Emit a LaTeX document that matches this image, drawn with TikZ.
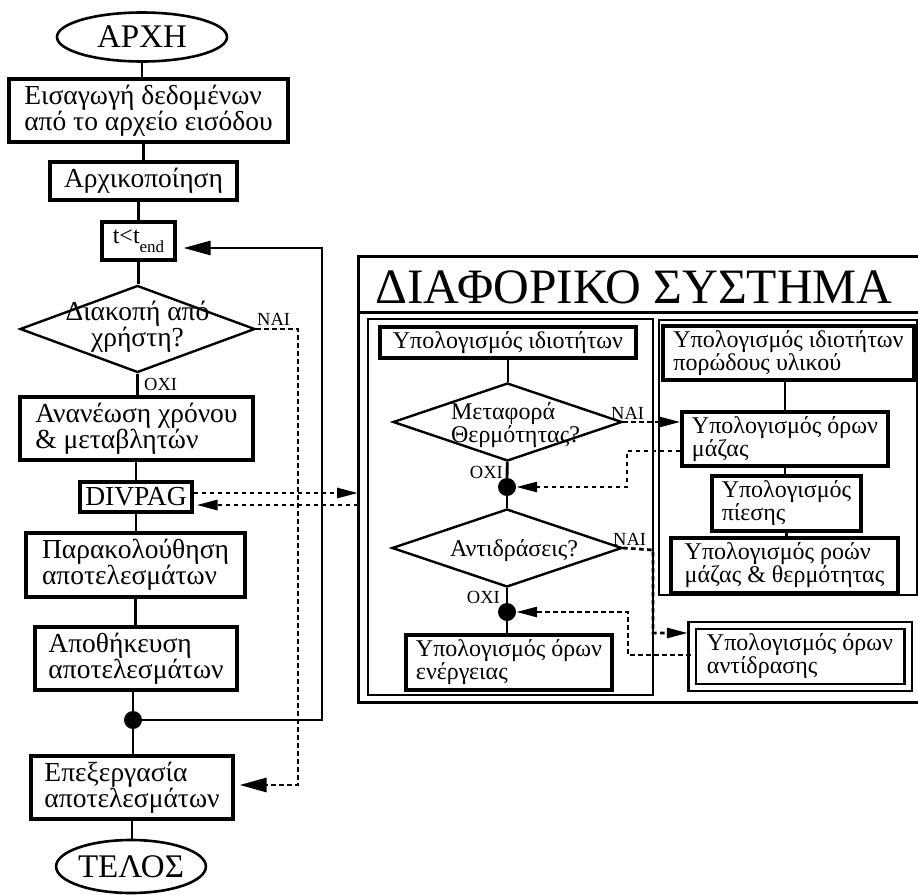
\documentclass[tikz,border=0pt]{standalone}
\usepackage{fontspec}
\setmainfont{Liberation Serif}
\usetikzlibrary{shapes.geometric, arrows.meta}

\tikzset{
    box/.style={draw, rectangle, line width=3.1pt, inner sep=1pt, align=left,
        font=\fontsize{27.5pt}{25pt}\selectfont},
    ibox/.style={box, font=\fontsize{24pt}{22pt}\selectfont},
    term/.style={draw, ellipse, line width=2.6pt, inner sep=0pt,
        font=\fontsize{33pt}{33pt}\selectfont},
    decision/.style={draw, diamond, line width=2.4pt, inner sep=0pt},
    dtext/.style={align=center, inner sep=0pt, font=\fontsize{27.5pt}{25pt}\selectfont},
    itext/.style={align=left, inner sep=0pt, font=\fontsize{24pt}{22pt}\selectfont},
    tag/.style={inner sep=1pt, font=\fontsize{18.5pt}{18pt}\selectfont},
    joint/.style={circle, fill, inner sep=0pt, minimum size=18pt},
    flow/.style={line width=2.8pt},
    signal/.style={line width=2.8pt, dash pattern=on 4.5pt off 3.5pt},
    bigtip/.style={-{Triangle[length=27pt,width=14pt]}},
    smalltip/.style={-{Triangle[length=21pt,width=10pt]}}
}

\begin{document}
\begin{tikzpicture}[x=1pt, y=-1pt]

        \useasboundingbox (0,0) rectangle (918,894);

        \node[term, minimum width=170pt, minimum height=49pt] (start) at (142,37) {ΑΡΧΗ};
        \node[box, minimum width=279pt, minimum height=63pt] (input) at (148.5,110.5)
            {Εισαγωγή δεδομένων\\από το αρχείο εισόδου};
        \node[box, minimum width=187pt, minimum height=38pt] (init) at (143.5,181) {Αρχικοποίηση};
        \node[box, minimum width=73pt, minimum height=38pt, font=\fontsize{24pt}{24pt}\selectfont]
            (time) at (138.5,241) {t<t\raisebox{-9pt}{\fontsize{17pt}{17pt}\selectfont end}};
        \node[decision, minimum width=235pt, minimum height=87pt,
            label={[dtext, yshift=2pt]center:Διακοπή από\\χρήστη?}] (stop) at (137.5,329) {};
        \node[box, minimum width=233pt, minimum height=63pt] (update) at (136.5,428.5)
            {Ανανέωση χρόνου\\\& μεταβλητών};
        \node[box, minimum width=112pt, minimum height=30pt, inner sep=0pt] (divpag) at (136,497) {DIVPAG};
        \node[box, minimum width=219pt, minimum height=64pt] (monitor) at (135.5,565)
            {Παρακολούθηση\\αποτελεσμάτων};
        \node[box, minimum width=202pt, minimum height=63pt] (save) at (136,658.5)
            {Αποθήκευση\\αποτελεσμάτων};
        \node[joint] (j0) at (133,720) {};
        \node[box, minimum width=202pt, minimum height=63pt] (post) at (132,787.5)
            {Επεξεργασία\\αποτελεσμάτων};
        \node[term, minimum width=144pt, minimum height=53pt] (end) at (131,866.5) {ΤΕΛΟΣ};

        \node[tag, anchor=west] (stop-no) at (143,384) {ΟΧΙ};
        \node[tag, anchor=south west] (stop-yes) at (256,327) {ΝΑΙ};

        \draw[flow] (start) -- (start |- input.north);
        \draw[flow] (init |- input.south) -- (init);
        \draw[flow] (time |- init.south) -- (time);
        \draw[flow] (time) -- (time |- stop.north);
        \draw[flow] (stop) -- (stop |- update.north);
        \draw[flow] (divpag |- update.south) -- (divpag);
        \draw[flow] (divpag) -- (divpag |- monitor.north);
        \draw[flow] (monitor) -- (monitor |- save.north);
        \draw[flow] (j0 |- save.south) -- (j0);
        \draw[flow] (j0) -- (j0 |- post.north);
        \draw[flow] (post) -- (post |- end.north);

        \coordinate (loopB) at (322,720);
        \coordinate (loopT) at (322,248);
        \draw[flow, bigtip, shorten >=7pt]
            (j0) -- (loopB) -- (loopT) -- (loopT -| time.east);

        \coordinate (quit0) at (298,329);
        \coordinate (quit1) at (298,785);
        \draw[signal, bigtip, shorten >=5pt]
            (stop.east) -- (quit0) -- (quit1) -- (quit1 -| post.east);

        \node[draw, line width=3pt, minimum width=563pt, minimum height=446pt, inner sep=0pt]
            (sys) at (639.5,479) {};
        \node[anchor=base west, inner sep=0pt, font=\fontsize{49.5pt}{49.5pt}\selectfont]
            (title) at (375,303) {ΔΙΑΦΟΡΙΚΟ ΣΥΣΤΗΜΑ};
        \draw[line width=3pt] (sys.west |- 0,312) -- (sys.east |- 0,312);

        \node[draw, line width=2.6pt, minimum width=285pt, minimum height=376pt, inner sep=0pt]
            (lpanel) at (510.5,507) {};
        \node[draw, line width=2.6pt, minimum width=258pt, minimum height=275pt, inner sep=0pt]
            (rpanel) at (788,457.5) {};

        \coordinate (sysA) at (358,493);
        \coordinate (sysB) at (358,505);
        \draw[signal, smalltip] (divpag.east |- sysA) -- (sysA);
        \draw[signal, smalltip, shorten >=3pt] (sysB) -- (sysB -| divpag.east);

        \node[ibox, minimum width=256pt, minimum height=31pt] (props) at (508,342.5)
            {Υπολογισμός ιδιοτήτων};
        \node[decision, minimum width=229pt, minimum height=78pt,
            label={[itext, xshift=8pt, yshift=-3pt]center:Μεταφορά\\Θερμότητας?}] (heat) at (507.5,422) {};
        \node[joint] (j1) at (507,487) {};
        \node[decision, minimum width=230pt, minimum height=78pt,
            label={[itext, xshift=7pt, yshift=-3pt]center:Αντιδράσεις?}] (react) at (507,548) {};
        \node[joint] (j2) at (507,612) {};
        \node[ibox, minimum width=206pt, minimum height=55pt] (energy) at (509,662.5)
            {Υπολογισμός όρων\\ενέργειας};

        \node[tag, anchor=east] (heat-no) at (504,472) {ΟΧΙ};
        \node[tag, anchor=south west] (heat-yes) at (610,421) {ΝΑΙ};
        \node[tag, anchor=east] (react-no) at (501,597) {ΟΧΙ};
        \node[tag, anchor=south west] (react-yes) at (612,547) {ΝΑΙ};

        \node[ibox, minimum width=251pt, minimum height=54pt] (porous) at (788.5,353)
            {Υπολογισμός ιδιοτήτων\\πορώδους υλικού};
        \node[ibox, minimum width=206pt, minimum height=54pt] (mass) at (785,439)
            {Υπολογισμός όρων\\μάζας};
        \node[ibox, minimum width=149pt, minimum height=55pt] (press) at (786.5,503.5)
            {Υπολογισμός\\πίεσης};
        \node[ibox, minimum width=227pt, minimum height=55pt] (flows) at (784.5,565.5)
            {Υπολογισμός ροών\\μάζας \& θερμότητας};
        \node[ibox, line width=2.4pt, double, double distance=5pt, minimum width=216pt, minimum height=62pt]
            (rterms) at (800,656.5) {Υπολογισμός όρων\\αντίδρασης};

        \draw[flow] (props) -- (props |- heat.north);
        \draw[flow] (heat) -- (j1);
        \draw[flow] (j1) -- (react);
        \draw[flow] (react) -- (j2);
        \draw[flow] (j2) -- (j2 |- energy.north);

        \draw[flow] (mass |- porous.south) -- (mass);
        \draw[flow] (mass) -- (mass |- press.north);
        \draw[flow] (press) -- (press |- flows.north);

        \draw[signal, smalltip] (heat.east) -- (heat.east -| mass.west);
        \coordinate (m1) at (627,451);
        \coordinate (m2) at (627,487);
        \draw[signal, smalltip] (mass.west |- m1) -- (m1) -- (m2) -- (j1);

        \coordinate (r1) at (653,550);
        \coordinate (r2) at (653,633);
        \draw[signal, smalltip, shorten >=3pt] (react.east) -- (r1) -- (r2) -- (r2 -| rterms.west);
        \coordinate (r3) at (628,655);
        \coordinate (r4) at (628,612);
        \draw[signal, smalltip] (rterms.west |- r3) -- (r3) -- (r4) -- (j2);

\end{tikzpicture}
\end{document}
